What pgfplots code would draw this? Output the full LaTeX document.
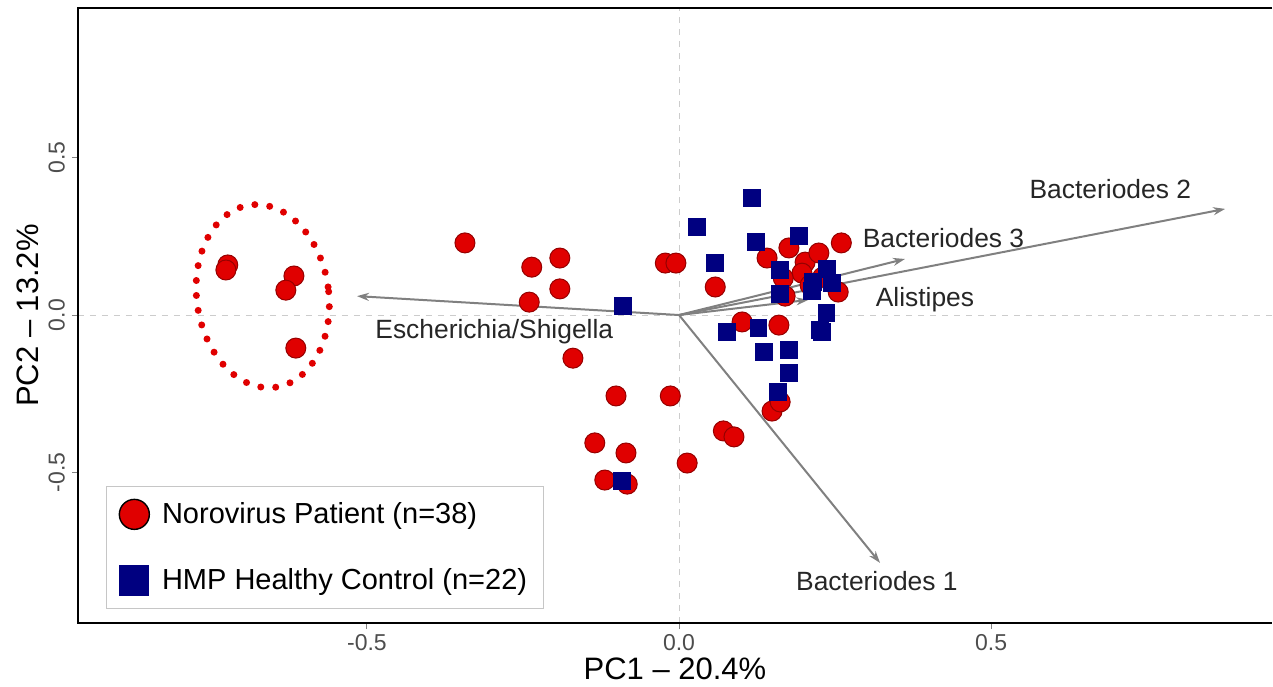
\documentclass[border=0pt]{standalone}
\usepackage{pgfplots}
\pgfplotsset{compat=1.18}
\usetikzlibrary{arrows.meta,shapes.geometric}
\usepackage{fontspec}
\setmainfont{Liberation Sans}
\definecolor{myred}{RGB}{224,0,0}
\definecolor{myredline}{RGB}{150,0,0}
\definecolor{myblue}{RGB}{0,0,128}
\definecolor{arrowgray}{RGB}{128,128,128}
\definecolor{ticklab}{RGB}{77,77,77}
\begin{document}
\begin{tikzpicture}
\begin{axis}[
  scale only axis,
  width=597pt, height=307.5pt,
  xmin=-0.963, xmax=0.950,
  ymin=-0.978, ymax=0.975,
  axis line style={draw=none},
  xtick={-0.5,0,0.5}, xticklabels={-0.5,0.0,0.5},
  ytick={-0.5,0,0.5}, yticklabels={-0.5,0.0,0.5},
  xtick pos=bottom, ytick pos=left,
  tick align=outside, major tick length=3pt,
  tick style={ticklab!70, line width=0.5pt},
  /pgf/number format/assume math mode=true,
  ticklabel style={font=\fontsize{11.5}{13}\selectfont, text=ticklab},
  xticklabel style={yshift=1pt},
  yticklabel style={rotate=90, anchor=south},
  xlabel={PC1 -- 20.4\%}, ylabel={PC2 -- 13.2\%},
  label style={font=\fontsize{15.5}{17}\selectfont},
  xlabel style={yshift=3pt},
  ylabel style={yshift=-2pt},
  clip=false,
  legend cell align=left,
  legend style={at={(rel axis cs:0.0235,0.0228)}, anchor=south west,
    draw=gray!45, line width=0.6pt, font=\fontsize{14.5}{16.5}\selectfont,
    inner xsep=6pt, inner ysep=6pt, row sep=17pt,
    /tikz/every odd column/.append style={column sep=4pt}},
]
% zero reference lines
\addplot[gray!40, dashed, line width=0.4pt, forget plot] coordinates {(0,-0.978) (0,0.975)};
\addplot[gray!40, dashed, line width=0.4pt, forget plot] coordinates {(-0.963,0) (0.950,0)};

\addplot[only marks, mark=*, mark size=5pt, mark options={fill=myred, draw=myredline, line width=0.5pt},
  legend image code/.code={\draw[fill=myred, draw=black, line width=0.7pt] (7.5pt,0pt) circle (7.5pt);}]
coordinates {
(-0.723,0.159) (-0.726,0.143) (-0.617,0.124) (-0.630,0.079) (-0.614,-0.105)
(-0.343,0.229) (-0.236,0.152) (-0.191,0.181) (-0.191,0.083) (-0.240,0.041) (-0.170,-0.137)
(-0.022,0.165) (-0.005,0.165) (0.058,0.089)
(0.141,0.181) (0.176,0.213) (0.202,0.168) (0.224,0.197) (0.260,0.229) (0.197,0.133) (0.167,0.117) (0.255,0.073)
(0.101,-0.022) (0.160,-0.032)
(-0.101,-0.257) (-0.014,-0.257) (-0.135,-0.406) (-0.085,-0.438) (-0.119,-0.524) (-0.083,-0.537)
(0.013,-0.470) (0.071,-0.368) (0.088,-0.387) (0.149,-0.305) (0.162,-0.276)
(0.230,0.120) (0.170,0.060) (0.210,0.095)
};
\addlegendentry{Norovirus Patient (n=38)}

\addplot[only marks, mark=square*, mark size=4.2pt, mark options={fill=myblue, draw=myblue},
  legend image code/.code={\fill[myblue] (0pt,-7.3pt) rectangle (14.6pt,7.3pt);}]
coordinates {
(0.117,0.371) (0.029,0.279) (0.123,0.232) (0.192,0.251) (0.058,0.165) (0.162,0.143)
(0.237,0.146) (0.215,0.105) (0.245,0.102) (0.162,0.067) (-0.090,0.029) (0.236,0.006)
(0.077,-0.054) (0.127,-0.041) (0.229,-0.054) (0.136,-0.117) (0.176,-0.111) (0.176,-0.184)
(0.159,-0.244) (-0.091,-0.527) (0.213,0.076) (0.226,-0.048)
};
\addlegendentry{HMP Healthy Control (n=22)}

% loading arrows
\addplot[arrowgray, line width=1pt, -{Stealth[length=6pt,width=4pt]}, forget plot] coordinates {(0,0) (-0.516,0.060)};
\addplot[arrowgray, line width=1pt, -{Stealth[length=6pt,width=4pt]}, forget plot] coordinates {(0,0) (0.875,0.337)};
\addplot[arrowgray, line width=1pt, -{Stealth[length=6pt,width=4pt]}, forget plot] coordinates {(0,0) (0.362,0.178)};
\addplot[arrowgray, line width=1pt, -{Stealth[length=6pt,width=4pt]}, forget plot] coordinates {(0,0) (0.207,0.048)};
\addplot[arrowgray, line width=1pt, -{Stealth[length=6pt,width=4pt]}, forget plot] coordinates {(0,0) (0.322,-0.787)};

\node[font=\fontsize{13.2}{15}\selectfont, text=black!85] at (axis cs:0.691,0.400) {Bacteriodes 2};
\node[font=\fontsize{13.2}{15}\selectfont, text=black!85, anchor=west] at (axis cs:0.283,0.244) {Bacteriodes 3};
\node[font=\fontsize{13.2}{15}\selectfont, text=black!85] at (axis cs:0.394,0.048) {Alistipes};
\node[font=\fontsize{13.2}{15}\selectfont, text=black!85] at (axis cs:-0.296,-0.054) {Escherichia/Shigella};
\node[font=\fontsize{13.2}{15}\selectfont, text=black!85] at (axis cs:0.317,-0.844) {Bacteriodes 1};

% dotted ellipse
\node[ellipse, draw=myred, line width=3.5pt, line cap=round, dash pattern=on 0pt off 7.5pt,
  minimum width=66pt, minimum height=92pt, inner sep=0pt, rotate=8] at (axis cs:-0.667,0.060) {};

% frame (left, top, bottom)
\draw[black, line width=1pt] (rel axis cs:1,1) -- (rel axis cs:0,1) -- (rel axis cs:0,0) -- (rel axis cs:1,0);
% picture extent
\path (rel axis cs:-0.0653,-0.0976) rectangle (rel axis cs:1.0008,1.013);
\end{axis}
\end{tikzpicture}
\end{document}
